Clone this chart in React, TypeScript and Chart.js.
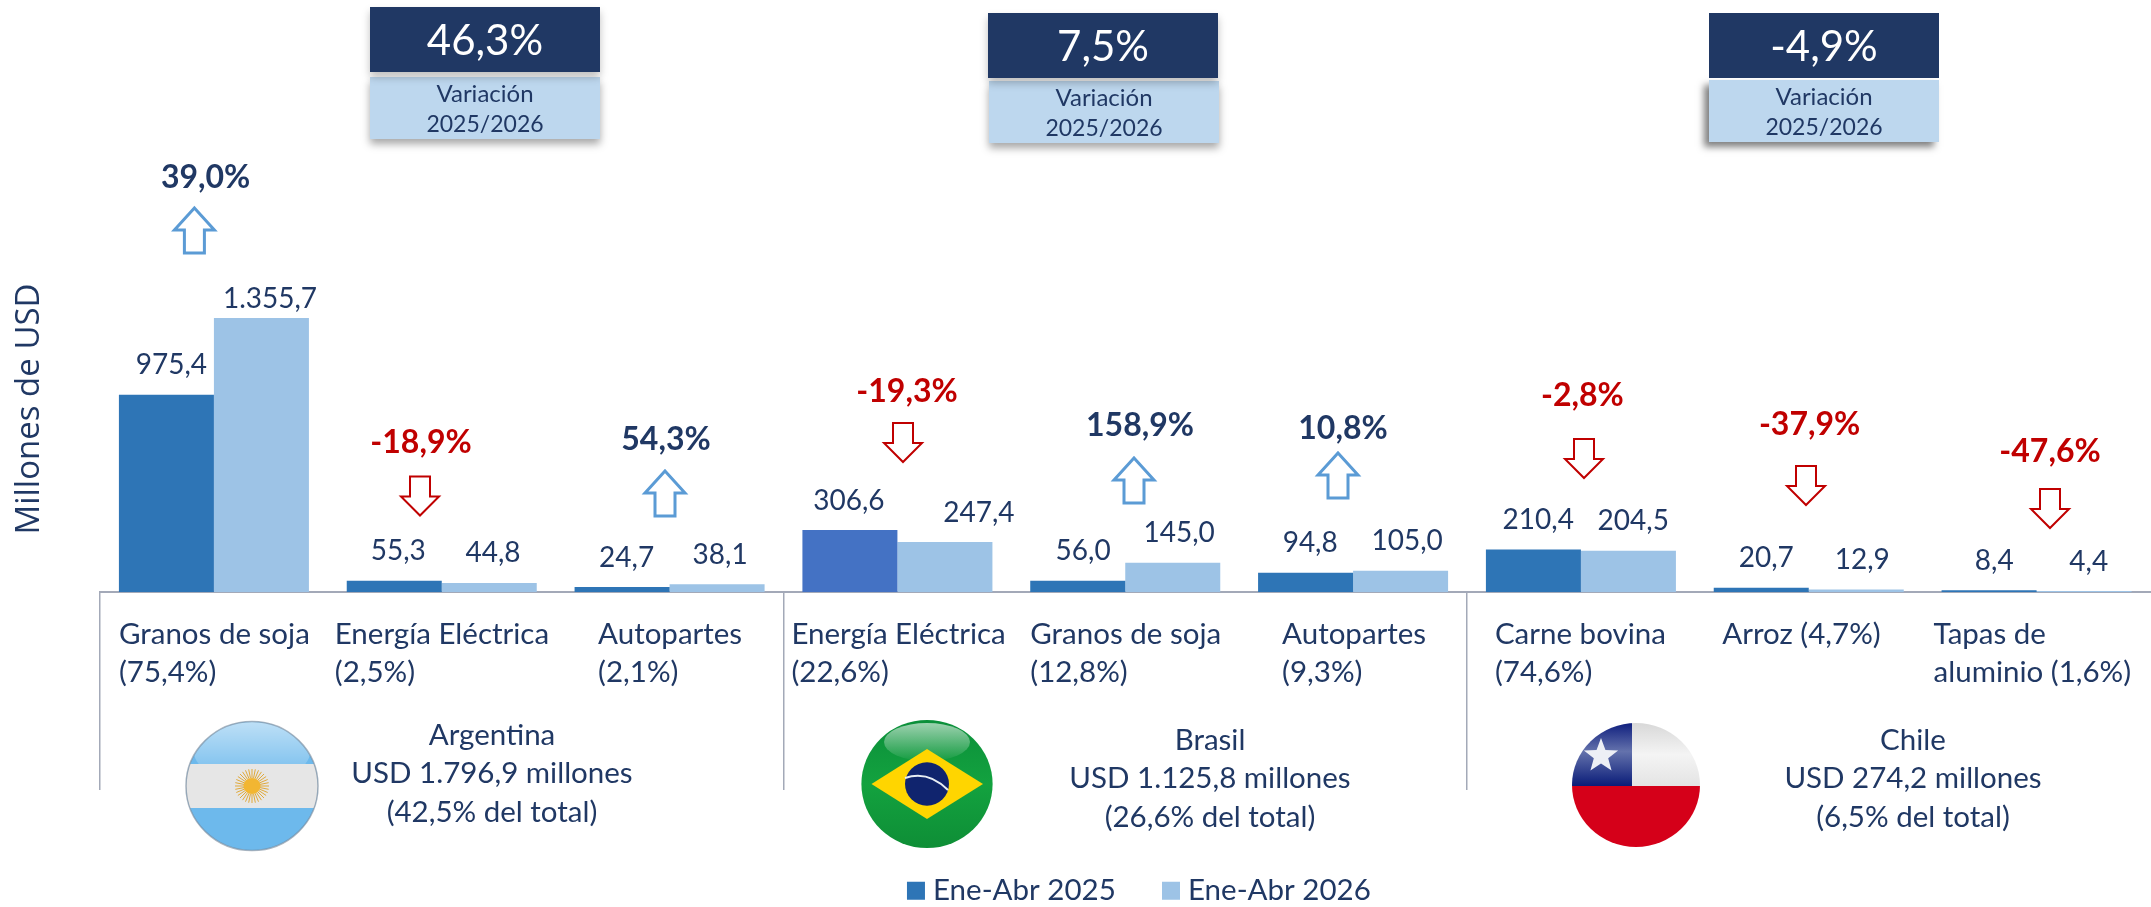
import React, { useEffect, useRef } from "react";
import { Chart, registerables } from "chart.js";

Chart.register(...registerables);

const categories = [
  ["Granos de soja", "(75,4%)"],
  ["Energía Eléctrica", "(2,5%)"],
  ["Autopartes", "(2,1%)"],
  ["Energía Eléctrica", "(22,6%)"],
  ["Granos de soja", "(12,8%)"],
  ["Autopartes", "(9,3%)"],
  ["Carne bovina", "(74,6%)"],
  ["Arroz (4,7%)", ""],
  ["Tapas de", "aluminio (1,6%)"],
];
const series2025 = [975.4, 55.3, 24.7, 306.6, 56.0, 94.8, 210.4, 20.7, 8.4];
const series2026 = [1355.7, 44.8, 38.1, 247.4, 145.0, 105.0, 204.5, 12.9, 4.4];
const changes = [39.0, -18.9, 54.3, -19.3, 158.9, 10.8, -2.8, -37.9, -47.6];
const seriesNames = ["Ene-Abr 2025", "Ene-Abr 2026"];
const countryTotals = ["46,3%", "7,5%", "-4,9%"];
const countryText = [
  ["Argentina", "USD 1.796,9 millones", "(42,5% del total)"],
  ["Brasil", "USD 1.125,8 millones", "(26,6% del total)"],
  ["Chile", "USD 274,2 millones", "(6,5% del total)"],
];

const NAVY = "#203864";
const BAR_DARK = "#2E75B6";
const BAR_BRAZIL = "#4472C4";
const BAR_LIGHT = "#9DC3E6";
const AXIS = "#A3A9B8";
const UP = "#5B9BD5";
const DOWN = "#C00000";
const FONT = "Lato";

// annotation layout
const labelLeftOffset = [-95, -107, -71.5, -106, -95, -71, -86, -86.5, -103];
const value2025Nudge = [5, 4, 4.5, -1, 5.4, 4.6, 4.8, 5, 5.2];
const value2026Nudge = [8.6, 3.8, 3, 34, 6.4, 6.6, 4.8, 6, 4.7];
const changeLabelPos = [
  [205.6, 178], [421, 443], [666, 440], [907, 392], [1140, 426], [1343, 428.5],
  [1582.4, 396], [1809.6, 424.6], [2050, 451.4],
];
const arrowPos = [
  [194.4, 208], [420, 476.5], [665, 471], [903, 423], [1134, 458], [1338, 453],
  [1584, 439], [1806, 466], [2050, 489],
];
const boxes = [
  { x: 370, y: 7, w: 230, h: 65, lx: 370, ly: 77, lh: 62, sc: "rgba(0,0,0,0.35)", sb: 8, sx: 0, sy: 5 },
  { x: 988, y: 13, w: 230, h: 65, lx: 989, ly: 81, lh: 62, sc: "rgba(0,0,0,0.35)", sb: 8, sx: 0, sy: 5 },
  { x: 1709, y: 13, w: 230, h: 65, lx: 1709, ly: 80, lh: 62, sc: "rgba(0,0,0,0.5)", sb: 7, sx: -5, sy: 5 },
];
const countryPos = [
  [492, 735], [1210, 740], [1913, 740],
];

function fmt(v: number) {
  const [a, b] = Math.abs(v).toFixed(1).split(".");
  const int = a.replace(/\B(?=(\d{3})+(?!\d))/g, ".");
  return (v < 0 ? "-" : "") + int + "," + b;
}

function text(ctx: CanvasRenderingContext2D, s: string, x: number, y: number, size: number, color: string, align: CanvasTextAlign = "center", weight = "400") {
  ctx.font = `${weight} ${size}px ${FONT}`;
  ctx.fillStyle = color;
  ctx.textAlign = align;
  ctx.textBaseline = "middle";
  ctx.fillText(s, x, y);
}

function arrow(ctx: CanvasRenderingContext2D, cx: number, top: number, up: boolean) {
  const w = up ? 40 : 38;
  const h = up ? 45 : 39;
  const head = up ? 22 : 19;
  const sw = 10;
  const pts = up
    ? [[0, 0], [w / 2, head], [sw, head], [sw, h], [-sw, h], [-sw, head], [-w / 2, head]]
    : [[-sw, 0], [sw, 0], [sw, h - head], [w / 2, h - head], [0, h], [-w / 2, h - head], [-sw, h - head]];
  ctx.beginPath();
  pts.forEach(([px, py], i) => (i ? ctx.lineTo(cx + px, top + py) : ctx.moveTo(cx + px, top + py)));
  ctx.closePath();
  ctx.fillStyle = "#fff";
  ctx.fill();
  ctx.lineWidth = up ? 3 : 2;
  ctx.lineJoin = "miter";
  ctx.strokeStyle = up ? UP : DOWN;
  ctx.stroke();
}

function ellipsePath(ctx: CanvasRenderingContext2D, cx: number, cy: number, rx: number, ry: number) {
  ctx.beginPath();
  ctx.ellipse(cx, cy, rx, ry, 0, 0, Math.PI * 2);
}

function gloss(ctx: CanvasRenderingContext2D, cx: number, cy: number, rx: number, ry: number, alpha: number) {
  const g = ctx.createLinearGradient(0, cy - ry, 0, cy + ry);
  g.addColorStop(0, `rgba(255,255,255,${alpha})`);
  g.addColorStop(1, "rgba(255,255,255,0.02)");
  ellipsePath(ctx, cx, cy, rx, ry);
  ctx.fillStyle = g;
  ctx.fill();
}

function flagArgentina(ctx: CanvasRenderingContext2D) {
  const cx = 252, cy = 786, rx = 66, ry = 64.5;
  ctx.save();
  ellipsePath(ctx, cx, cy, rx, ry);
  ctx.clip();
  ctx.fillStyle = "#6DB9EC";
  ctx.fillRect(cx - rx, cy - ry, rx * 2, ry * 2);
  gloss(ctx, cx, 752, 58, 30, 0.55);
  ctx.fillStyle = "#E6E6E6";
  ctx.fillRect(cx - rx, 764, rx * 2, 44);
  ctx.restore();
  for (let i = 0; i < 32; i++) {
    const a = (i * Math.PI) / 16;
    ctx.beginPath();
    ctx.moveTo(cx + Math.cos(a) * 8, cy + Math.sin(a) * 8);
    ctx.lineTo(cx + Math.cos(a) * 17, cy + Math.sin(a) * 17);
    ctx.strokeStyle = "#E0A93A";
    ctx.lineWidth = 1;
    ctx.stroke();
  }
  ellipsePath(ctx, cx, cy, 8.5, 8);
  ctx.fillStyle = "#F2B632";
  ctx.fill();
  ellipsePath(ctx, cx, cy, rx, ry);
  ctx.strokeStyle = "rgba(110,130,150,0.6)";
  ctx.lineWidth = 1.5;
  ctx.stroke();
}

function flagBrazil(ctx: CanvasRenderingContext2D) {
  const cx = 927, cy = 784, rx = 65.6, ry = 64;
  const g = ctx.createLinearGradient(0, cy - ry, 0, cy + ry);
  g.addColorStop(0, "#0B8F3A");
  g.addColorStop(0.5, "#13A23F");
  g.addColorStop(1, "#0E8E36");
  ellipsePath(ctx, cx, cy, rx, ry);
  ctx.fillStyle = g;
  ctx.fill();
  gloss(ctx, cx, 742, 43, 19, 0.6);
  ctx.beginPath();
  ctx.moveTo(871.5, cy);
  ctx.lineTo(cx, 749);
  ctx.lineTo(983, cy);
  ctx.lineTo(cx, 819);
  ctx.closePath();
  ctx.fillStyle = "#FFD500";
  ctx.fill();
  ellipsePath(ctx, cx, cy, 22, 21.7);
  ctx.fillStyle = "#10246E";
  ctx.fill();
  ctx.beginPath();
  ctx.moveTo(905, 778);
  ctx.quadraticCurveTo(928, 770, 948, 790);
  ctx.strokeStyle = "#E8EEF5";
  ctx.lineWidth = 2;
  ctx.stroke();
}

function flagChile(ctx: CanvasRenderingContext2D) {
  const cx = 1636, cy = 785, rx = 64, ry = 62;
  ctx.save();
  ellipsePath(ctx, cx, cy, rx, ry);
  ctx.clip();
  ctx.fillStyle = "#D50019";
  ctx.fillRect(cx - rx, 786, rx * 2, ry + 2);
  const w = ctx.createLinearGradient(0, cy - ry, 0, 786);
  w.addColorStop(0, "#D8D8D8");
  w.addColorStop(0.5, "#F4F4F4");
  w.addColorStop(1, "#E4E4E4");
  ctx.fillStyle = w;
  ctx.fillRect(1632, cy - ry, rx + 6, 786 - cy + ry);
  const b = ctx.createLinearGradient(0, cy - ry, 0, 786);
  b.addColorStop(0, "#0F1F7E");
  b.addColorStop(0.45, "#6472AC");
  b.addColorStop(1, "#0A1C78");
  ctx.fillStyle = b;
  ctx.fillRect(cx - rx, cy - ry, 1632 - cx + rx, 786 - cy + ry);
  ctx.restore();
  const sx = 1601, sy = 756, R = 18;
  ctx.beginPath();
  for (let i = 0; i < 10; i++) {
    const r = i % 2 ? R * 0.42 : R;
    const a = -Math.PI / 2 + (i * Math.PI) / 5;
    const px = sx + Math.cos(a) * r, py = sy + Math.sin(a) * r;
    i ? ctx.lineTo(px, py) : ctx.moveTo(px, py);
  }
  ctx.closePath();
  ctx.fillStyle = "#EDEFF5";
  ctx.fill();
}

const decorations = {
  id: "decorations",
  afterLayout(chart: any) {
    const l = chart.legend;
    l.left += 64; l.right += 64; l.top += 33; l.bottom += 33;
  },
  afterDraw(chart: any) {
    const ctx: CanvasRenderingContext2D = chart.ctx;
    const xs = chart.scales.x;
    ctx.save();

    // variation boxes
    boxes.forEach((b, i) => {
      ctx.save();
      ctx.shadowColor = b.sc; ctx.shadowBlur = b.sb; ctx.shadowOffsetX = b.sx; ctx.shadowOffsetY = b.sy;
      ctx.fillStyle = "#BDD7EE";
      ctx.fillRect(b.lx, b.ly, b.w, b.lh);
      ctx.fillStyle = NAVY;
      ctx.shadowColor = i === 2 ? "transparent" : "rgba(0,0,0,0.25)";
      ctx.fillRect(b.x, b.y, b.w, b.h);
      ctx.restore();
      const mid = b.x + b.w / 2;
      text(ctx, countryTotals[i], mid, b.y + 34, 42, "#FFFFFF");
      text(ctx, "Variación", b.lx + b.w / 2, b.ly + 17, 24, NAVY);
      text(ctx, "2025/2026", b.lx + b.w / 2, b.ly + 48, 23, NAVY);
    });

    // value labels
    [chart.getDatasetMeta(0), chart.getDatasetMeta(1)].forEach((meta: any, d: number) => {
      const vals = d ? series2026 : series2025;
      const nudge = d ? value2026Nudge : value2025Nudge;
      meta.data.forEach((bar: any, i: number) => {
        const gap = d === 1 && i === 0 ? 19.5 : 29.5;
        text(ctx, fmt(vals[i]), bar.x + nudge[i], bar.y - gap, 28, NAVY);
      });
    });

    // category labels
    categories.forEach((lines, i) => {
      const x = xs.getPixelForValue(i) + labelLeftOffset[i];
      text(ctx, lines[0], x, 634, 29.5, NAVY, "left");
      if (lines[1]) text(ctx, lines[1], x, 672, 29.5, NAVY, "left");
    });

    // change labels and arrows
    changes.forEach((c, i) => {
      const [lx, ly] = changeLabelPos[i];
      text(ctx, (c < 0 ? "-" : "") + Math.abs(c).toFixed(1).replace(".", ",") + "%", lx, ly, 32, c < 0 ? DOWN : NAVY, "center", "700");
      const [ax, ay] = arrowPos[i];
      arrow(ctx, ax, ay, c >= 0);
    });

    // flags
    flagArgentina(ctx);
    flagBrazil(ctx);
    flagChile(ctx);

    // country text
    countryText.forEach((lines, i) => {
      const [x, y] = countryPos[i];
      lines.forEach((s, j) => text(ctx, s, x, y + (j === 0 ? 0 : j === 1 ? 38 : 77), 29.5, NAVY));
    });
    ctx.restore();
  },
};

export default function App() {
  const ref = useRef<HTMLCanvasElement>(null);
  useEffect(() => {
    if (!ref.current) return;
    const chart = new Chart(ref.current, {
      type: "bar",
      plugins: [decorations],
      data: {
        labels: categories,
        datasets: [
          {
            label: seriesNames[0],
            data: series2025,
            backgroundColor: series2025.map((_, i) => (i === 3 ? BAR_BRAZIL : BAR_DARK)),
            categoryPercentage: 0.834,
            barPercentage: 1,
          },
          {
            label: seriesNames[1],
            data: series2026,
            backgroundColor: BAR_LIGHT,
            categoryPercentage: 0.834,
            barPercentage: 1,
          },
        ],
      },
      options: {
        animation: false,
        responsive: false,
        devicePixelRatio: 1,
        layout: { padding: { left: 6, right: 0.5, top: 226, bottom: 24.5 } },
        plugins: {
          title: { display: false },
          tooltip: { enabled: false },
          legend: {
            display: true,
            position: "bottom",
            labels: {
              boxWidth: 4.5,
              boxHeight: 4.5,
              padding: 53,
              color: NAVY,
              font: { family: FONT, size: 29.5 },
              generateLabels: () =>
                seriesNames.map((n, i) => ({
                  text: n,
                  fillStyle: i ? BAR_LIGHT : BAR_DARK,
                  strokeStyle: i ? BAR_LIGHT : BAR_DARK,
                  lineWidth: 13.5,
                  fontColor: NAVY,
                  datasetIndex: i,
                })),
            },
          },
        },
        scales: {
          x: {
            grid: {
              display: true,
              drawOnChartArea: false,
              drawTicks: true,
              tickLength: 198,
              offset: true,
              lineWidth: 1.5,
              color: (c: any) => (c.index % 3 === 0 ? AXIS : "rgba(0,0,0,0)"),
            },
            border: { display: true, color: AXIS, width: 2 },
            ticks: { display: false, autoSkip: false },
          },
          y: {
            min: 0,
            max: 1811,
            grid: { display: false, drawTicks: false },
            border: { display: false },
            ticks: { display: false },
            title: {
              display: true,
              text: "Millones de USD",
              color: NAVY,
              font: { family: "Open Sans", size: 33, weight: "400" },
              padding: { top: 4, bottom: 50.4 },
            },
          },
        },
      },
    } as any);
    return () => chart.destroy();
  }, []);
  return (
    <canvas
      ref={ref}
      width={2151}
      height={907}
      style={{ position: "absolute", left: 0, top: 0, display: "block" }}
    />
  );
}
